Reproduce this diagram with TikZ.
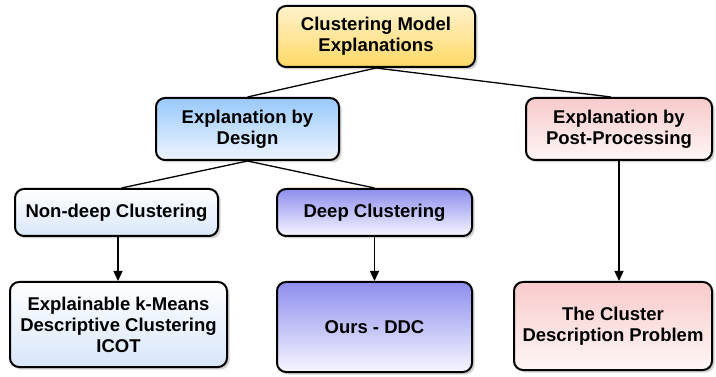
\documentclass[tikz,border=0pt]{standalone}
\usepackage{fontspec}
\setmainfont{Liberation Sans}
\usetikzlibrary{shadows,arrows.meta}

\definecolor{ylwTop}{HTML}{FFF2CC}
\definecolor{ylwBot}{HTML}{FFD966}
\definecolor{bluTop}{HTML}{99C9FB}
\definecolor{bluBot}{HTML}{EEF5FE}
\definecolor{paleBlu}{HTML}{D8E6FA}
\definecolor{vioTop}{HTML}{8E8EEE}
\definecolor{vioBot}{HTML}{F6F6FF}
\definecolor{pnkTop}{HTML}{F8CACA}
\definecolor{pnkBot}{HTML}{FFF6F6}

\tikzset{
  box/.style={draw=black, line width=2pt, rounded corners=9pt,
    align=center, inner sep=2pt, anchor=center,
    font=\fontsize{18.5}{21}\selectfont\bfseries,
    drop shadow={opacity=0.35, shadow xshift=2.5pt, shadow yshift=-2.5pt}},
  yellowbox/.style={box, top color=ylwTop, bottom color=ylwBot},
  bluebox/.style={box, top color=bluTop, bottom color=bluBot},
  palebox/.style={box, top color=white, bottom color=paleBlu},
  violetbox/.style={box, top color=vioTop, bottom color=vioBot},
  pinkbox/.style={box, top color=pnkTop, bottom color=pnkBot},
  link/.style={line width=1.3pt, draw=black},
  arrowlink/.style={link, -{Triangle[length=10pt,width=9pt]}}
}

\begin{document}
\begin{tikzpicture}[x=1pt, y=-1pt]
  \useasboundingbox (0,0) rectangle (716,377);

  % tree of explanation approaches
  \node[yellowbox, minimum width=198pt, minimum height=61pt] (root) at (376,36.5)
    {Clustering Model\\Explanations};
  \node[bluebox, minimum width=183pt, minimum height=62pt] (design) at (247.5,129)
    {Explanation by\\Design};
  \node[pinkbox, minimum width=186pt, minimum height=62pt] (post) at (619,129)
    {Explanation by\\Post-Processing};
  \node[palebox, minimum width=203pt, minimum height=47pt] (nondeep) at (116.5,212.5)
    {Non-deep Clustering};
  \node[violetbox, minimum width=195pt, minimum height=47pt] (deep) at (374.5,212.5)
    {Deep Clustering};
  \node[palebox, minimum width=217pt, minimum height=85pt] (methods) at (118.5,324.5)
    {Explainable k-Means\\Descriptive Clustering\\ICOT};
  \node[violetbox, minimum width=195pt, minimum height=90pt] (ours) at (374.5,327)
    {Ours - DDC};
  \node[pinkbox, minimum width=198pt, minimum height=88pt] (cdp) at (613,326)
    {The Cluster\\Description Problem};

  % plain links between levels
  \draw[link] (root.south) -- (design.north);
  \draw[link] (root.south) -- ([xshift=-8pt]post.north);
  \draw[link] (design.south) -- ([xshift=5pt]nondeep.north);
  \draw[link] (design.south) -- (deep.north);

  % arrows to the leaves
  \draw[arrowlink] ([xshift=1.5pt]nondeep.south) -- ([xshift=1.5pt]nondeep.south |- methods.north);
  \draw[arrowlink] (deep.south) -- (deep.south |- ours.north);
  \draw[arrowlink] (post.south) -- (post.south |- cdp.north);
\end{tikzpicture}
\end{document}
